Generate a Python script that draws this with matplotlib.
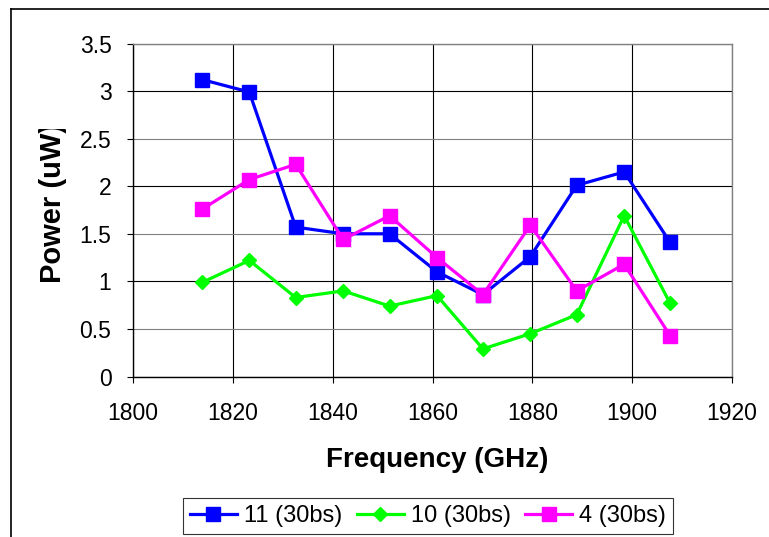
import matplotlib
matplotlib.use("Agg")
import matplotlib.pyplot as plt
from matplotlib.lines import Line2D
from matplotlib.transforms import Bbox

plt.rcParams['font.family'] = ['Liberation Sans', 'DejaVu Sans']

freq = [1813.9, 1823.3, 1832.6, 1842.1, 1851.4, 1860.9, 1870.1, 1879.6, 1888.9, 1898.4, 1907.6]
s11 = [3.12, 2.99, 1.57, 1.50, 1.50, 1.10, 0.86, 1.26, 2.01, 2.15, 1.41]
s10 = [0.99, 1.22, 0.83, 0.90, 0.74, 0.85, 0.29, 0.45, 0.65, 1.69, 0.77]
s4 = [1.76, 2.07, 2.23, 1.44, 1.69, 1.25, 0.86, 1.59, 0.90, 1.18, 0.43]
labels = ["11 (30bs)", "10 (30bs)", "4 (30bs)"]

W, H = 769, 537
fig = plt.figure(figsize=(W / 100, H / 100), dpi=100)
ax = fig.add_axes([133 / W, 1 - 376.5 / H, (732 - 133) / W, (376.5 - 43.5) / H])

ax.plot(freq, s11, color='#0000FF', lw=2.3, marker='s', ms=9.5, label=labels[0], zorder=3)
ax.plot(freq, s10, color='#00FF00', lw=2.3, marker='D', ms=7.2, label=labels[1], zorder=3)
ax.plot(freq, s4, color='#FF00FF', lw=2.3, marker='s', ms=9.5, label=labels[2], zorder=3)

ax.set_xlim(1800, 1920)
ax.set_ylim(0, 3.5)
ax.set_xticks(range(1800, 1921, 20))
ax.set_yticks([i * 0.5 for i in range(8)])
ax.set_yticklabels(["0", "0.5", "1", "1.5", "2", "2.5", "3", "3.5"])
ax.tick_params(axis='both', direction='out', length=4.5, width=0.8, labelsize=16.5)
ax.tick_params(axis='y', pad=11)
ax.tick_params(axis='x', pad=14)

ax.grid(True, color='black', lw=0.8)
for i, gl in enumerate(ax.yaxis.get_gridlines()):
    gl.set_color('black' if i % 2 == 0 else '#808080')
ax.set_axisbelow(True)

ax.spines['left'].set_color('black')
ax.spines['bottom'].set_color('black')
ax.spines['top'].set_color('#808080')
ax.spines['right'].set_color('#808080')
for sp in ax.spines.values():
    sp.set_linewidth(1.0)

fig.text(437 / W, 1 - 460 / H, "Frequency (GHz)", ha='center', va='center',
         fontsize=20, fontweight='bold')
# y label is cut off at its top end, as in the original chart
yl = fig.text(53 / W, 1 - 203 / H, "Power (uW)", ha='center', va='center',
              rotation=90, fontsize=21, fontweight='bold')
yl.set_clip_on(True)
yl.set_clip_box(Bbox.from_extents(0, 0, W, H - 129))

# outer chart frame (cut off at right and bottom)
fig.add_artist(Line2D([11 / W, 11 / W], [0, 1 - 9 / H], color='black', lw=1.2))
fig.add_artist(Line2D([11 / W, 1], [1 - 9 / H, 1 - 9 / H], color='black', lw=1.2))

leg = fig.legend(loc='upper center', bbox_to_anchor=(428 / W, 1 - 498 / H), ncol=3,
                 fontsize=17, frameon=True, fancybox=False, edgecolor='black',
                 handlelength=2.0, columnspacing=0.6, handletextpad=0.3,
                 borderpad=0.3, borderaxespad=0)
leg.get_frame().set_linewidth(0.8)

fig.savefig("out.png", dpi=100)
